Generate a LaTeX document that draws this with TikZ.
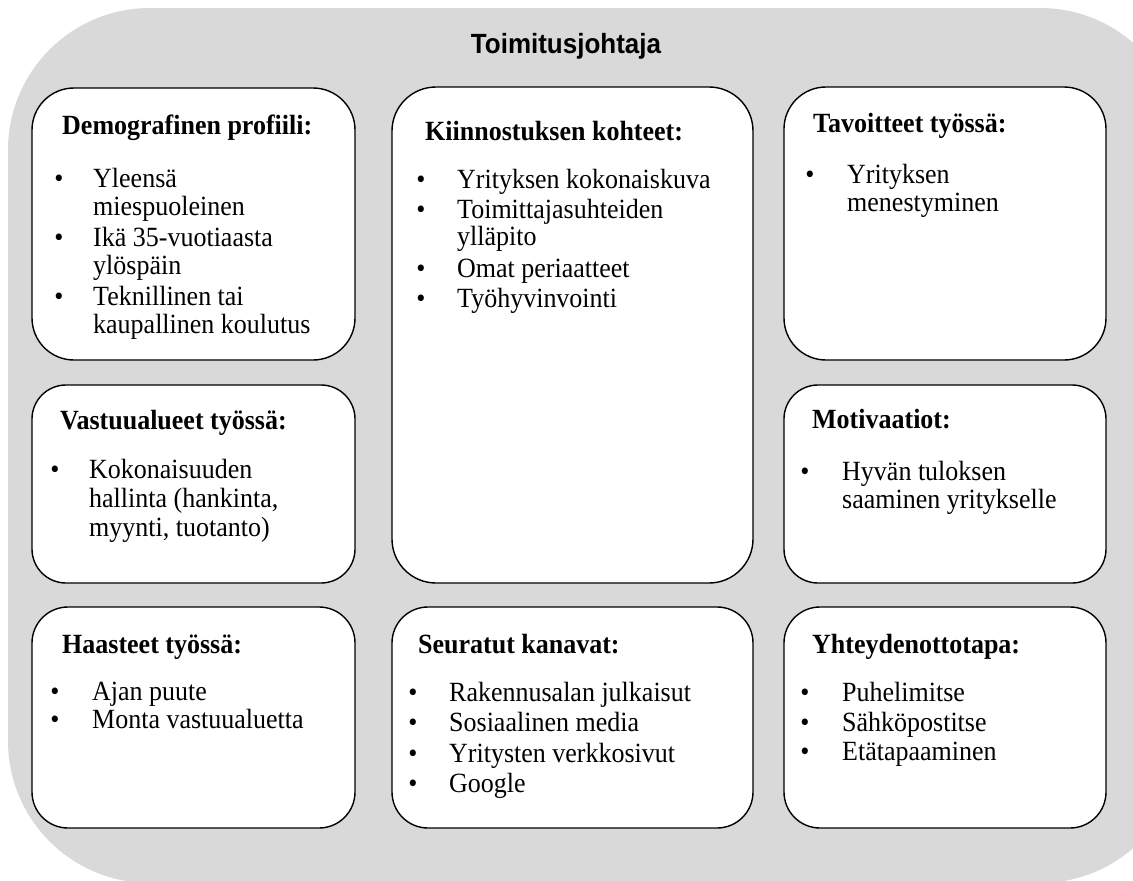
\documentclass[tikz,border=0pt]{standalone}
\usepackage{fontspec}
\setmainfont{Liberation Serif}[FakeStretch=0.935]
\newfontfamily\titlefont{Liberation Sans}[FakeStretch=0.935]
\definecolor{bggray}{RGB}{217,217,217}
\begin{document}
\begin{tikzpicture}[x=1pt,y=-1pt,
  box/.style={draw=black, line width=1.4pt, fill=white, inner sep=0pt, outer sep=0pt},
  head/.style={anchor=base west, inner sep=0pt, font=\bfseries\fontsize{27.8}{30}\selectfont},
  item/.style={anchor=base west, inner sep=0pt, font=\fontsize{27.8}{30}\selectfont},
  bul/.style={anchor=base, inner sep=0pt, font=\fontsize{27.8}{30}\selectfont},
  ttl/.style={anchor=base, inner sep=0pt, font=\titlefont\bfseries\fontsize{27.8}{30}\selectfont}]
\useasboundingbox (0,0) rectangle (1133,881);
\clip (0,0) rectangle (1133,881);
\fill[bggray, rounded corners=142pt] (8,8) rectangle (1182,883);
\node[ttl] (title) at (566,53) {Toimitusjohtaja};

% boxes
\node[box, rounded corners=42pt, minimum width=323pt, minimum height=272pt] (bA) at (193.5,224) {};
\node[box, rounded corners=34pt, minimum width=323pt, minimum height=198pt] (bB) at (193.5,484) {};
\node[box, rounded corners=36pt, minimum width=323pt, minimum height=221pt] (bC) at (193.5,717.5) {};
\node[box, rounded corners=44pt, minimum width=361pt, minimum height=496pt] (bD) at (572.5,335) {};
\node[box, rounded corners=36pt, minimum width=361pt, minimum height=221pt] (bE) at (572.5,717.5) {};
\node[box, rounded corners=42pt, minimum width=322pt, minimum height=273pt] (bF) at (945,223.5) {};
\node[box, rounded corners=34pt, minimum width=322pt, minimum height=198pt] (bG) at (945,484) {};
\node[box, rounded corners=36pt, minimum width=322pt, minimum height=221pt] (bH) at (945,717.5) {};

% A
\node[head] (hA) at (62,134) {Demografinen profiili:};
\node[bul] (bA1) at (59,187) {•};
\node[item] (tA1) at (93,187) {Yleensä};
\node[item] (tA2) at (93,215) {miespuoleinen};
\node[bul] (bA2) at (59,246) {•};
\node[item] (tA3) at (93,246) {Ikä 35-vuotiaasta};
\node[item] (tA4) at (93,274) {ylöspäin};
\node[bul] (bA3) at (59,305) {•};
\node[item] (tA5) at (93,305) {Teknillinen tai};
\node[item] (tA6) at (93,333) {kaupallinen koulutus};

% B
\node[head] (hB) at (60,429) {Vastuualueet työssä:};
\node[bul] (bB1) at (55,478) {•};
\node[item] (tB1) at (89,478) {Kokonaisuuden};
\node[item] (tB2) at (89,507) {hallinta (hankinta,};
\node[item] (tB3) at (89,536) {myynti, tuotanto)};

% C
\node[head] (hC) at (62,653) {Haasteet työssä:};
\node[bul] (bC1) at (55,700) {•};
\node[item] (tC1) at (92,700) {Ajan puute};
\node[bul] (bC2) at (55,728) {•};
\node[item] (tC2) at (92,728) {Monta vastuualuetta};

% D
\node[head] (hD) at (425,140) {Kiinnostuksen kohteet:};
\node[bul] (bD1) at (421,188) {•};
\node[item] (tD1) at (457,188) {Yrityksen kokonaiskuva};
\node[bul] (bD2) at (421,218) {•};
\node[item] (tD2) at (457,218) {Toimittajasuhteiden};
\node[item] (tD3) at (457,245) {ylläpito};
\node[bul] (bD3) at (421,277) {•};
\node[item] (tD4) at (457,277) {Omat periaatteet};
\node[bul] (bD4) at (421,307) {•};
\node[item] (tD5) at (457,307) {Työhyvinvointi};

% E
\node[head] (hE) at (418,653) {Seuratut kanavat:};
\node[bul] (bE1) at (413,701) {•};
\node[item] (tE1) at (449,701) {Rakennusalan julkaisut};
\node[bul] (bE2) at (413,731) {•};
\node[item] (tE2) at (449,731) {Sosiaalinen media};
\node[bul] (bE3) at (413,762) {•};
\node[item] (tE3) at (449,762) {Yritysten verkkosivut};
\node[bul] (bE4) at (413,792) {•};
\node[item] (tE4) at (449,792) {Google};

% F
\node[head] (hF) at (813,132) {Tavoitteet työssä:};
\node[bul] (bF1) at (810,183) {•};
\node[item] (tF1) at (847,183) {Yrityksen};
\node[item] (tF2) at (847,211) {menestyminen};

% G
\node[head] (hG) at (812,428) {Motivaatiot:};
\node[bul] (bG1) at (805,480) {•};
\node[item] (tG1) at (842,480) {Hyvän tuloksen};
\node[item] (tG2) at (842,508) {saaminen yritykselle};

% H
\node[head] (hH) at (812,653) {Yhteydenottotapa:};
\node[bul] (bH1) at (805,701) {•};
\node[item] (tH1) at (842,701) {Puhelimitse};
\node[bul] (bH2) at (805,731) {•};
\node[item] (tH2) at (842,731) {Sähköpostitse};
\node[bul] (bH3) at (805,760) {•};
\node[item] (tH3) at (842,760) {Etätapaaminen};
\end{tikzpicture}
\end{document}
